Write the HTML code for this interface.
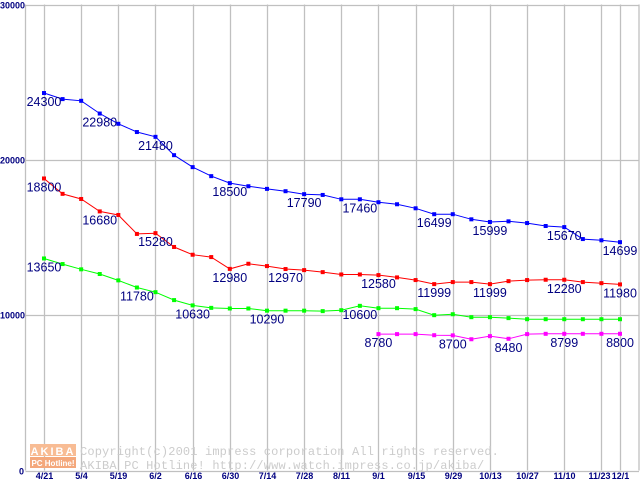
<!DOCTYPE html>
<html><head><meta charset="utf-8"><style>
html,body{margin:0;padding:0;background:#fff;width:640px;height:480px;overflow:hidden}
svg{display:block}
.tk{font-family:"Liberation Sans",sans-serif;font-size:9px;font-weight:bold;fill:#000080}
.vl{font-family:"Liberation Sans",sans-serif;font-size:12.5px;fill:#000080}
.wm{font-family:"Liberation Mono",monospace;font-size:12px;fill:#cccccc;letter-spacing:0.15px}
</style></head><body>
<svg id="chart" width="640" height="480">
<g id="grid"></g>
<g id="axes"></g>
<g>
<rect x="30" y="444" width="46" height="12" fill="#f8bc94"/>
<rect x="30" y="457" width="46" height="11" fill="#f4a87c"/>
<text x="53" y="455" text-anchor="middle" font-family="Liberation Sans,sans-serif" font-size="11" font-weight="bold" fill="#fff" letter-spacing="2">AKIBA</text>
<text x="53" y="466" text-anchor="middle" font-family="Liberation Sans,sans-serif" font-size="8" font-weight="bold" fill="#fff">PC Hotline!</text>
<text class="wm" x="80" y="455">Copyright(c)2001 impress corporation All rights reserved.</text>
<text class="wm" x="80" y="469">AKIBA PC Hotline!  http://www.watch.impress.co.jp/akiba/</text>
</g>
<g id="series"></g>
</svg>
<script>
const dates=["4/21","5/4","5/19","6/2","6/16","6/30","7/14","7/28","8/11","9/1","9/15","9/29","10/13","10/27","11/10","11/23","12/1"];
const yTicks=[0,10000,20000,30000];
const blue=[24300,23910,23800,22980,22320,21790,21480,20300,19530,18950,18500,18300,18130,17980,17790,17740,17460,17460,17270,17140,16880,16499,16499,16170,15999,16040,15930,15740,15670,14900,14820,14699];
const red=[18800,17810,17480,16680,16450,15230,15280,14390,13890,13740,12980,13310,13160,12970,12900,12770,12620,12620,12580,12430,12260,11999,12130,12130,11999,12190,12260,12280,12280,12130,12060,11980];
const green=[13650,13290,12950,12650,12240,11780,11480,10970,10630,10470,10430,10430,10290,10290,10290,10260,10320,10600,10450,10450,10390,10000,10060,9870,9870,9810,9740,9740,9740,9740,9740,9740];
const magenta=[null,null,null,null,null,null,null,null,null,null,null,null,null,null,null,null,null,null,8780,8780,8780,8710,8700,8450,8650,8480,8780,8799,8799,8799,8800,8800];
const blueLabels=[0,3,6,10,14,17,21,24,28,31];
const redLabels=[0,3,6,10,13,18,21,24,28,31];
const greenLabels=[0,5,8,12,17];
const magentaLabels=[18,22,25,28,31];

const NS="http://www.w3.org/2000/svg";
const N=blue.length;
function xs(i){return 44+i*(620-44)/(N-1);}
function ys(v){return 470.5-v*(466/30000);}
function mk(tag,attrs,parent){const e=document.createElementNS(NS,tag);for(const k in attrs)e.setAttribute(k,attrs[k]);parent.appendChild(e);return e;}
const grid=document.getElementById('grid'),axes=document.getElementById('axes'),ser=document.getElementById('series');
dates.forEach((d,k)=>{
  const i=(k<dates.length-1)?k*2:N-1;
  const x=Math.round(xs(i))+0.5;
  const l=mk('line',{x1:x,x2:x,y1:4.5,y2:470.5,stroke:'#c0c0c0','stroke-width':1.3},grid);
  
  
  const t=mk('text',{x:x-(d==="11/23"?2:0),y:479,'text-anchor':'middle',class:'tk'},axes);
  t.textContent=d;
  
  
});
yTicks.forEach(v=>{
  const y=Math.round(ys(v))+0.5;
  const l=mk('line',{x1:25.5,x2:639,y1:y,y2:y,stroke:'#c0c0c0','stroke-width':1.3},grid);
  
  
  const t=mk('text',{x:v===0?24:25,y:y+3,'text-anchor':'end',class:'tk'},axes);
  t.textContent=v;
  
  
});
const la=mk('line',{x1:25.5,x2:25.5,y1:4.5,y2:470.5,stroke:'#c0c0c0','stroke-width':1.3},axes);


const ra=mk('line',{x1:639,x2:639,y1:4.5,y2:470.5,stroke:'#c0c0c0','stroke-width':1.3},axes);



function drawSeries(data,color,labels,name){
  const g=mk('g',{},ser);
  
  
  let d='';
  data.forEach((v,i)=>{if(v==null)return;d+=(d?'L':'M')+xs(i).toFixed(1)+','+ys(v).toFixed(1);});
  const p=mk('path',{d:d,fill:'none',stroke:color,'stroke-width':1},g);
  
  
  data.forEach((v,i)=>{if(v==null)return;
    const r=mk('rect',{x:xs(i)-2,y:ys(v)-2,width:4,height:4,fill:color},g);
    
    
  });
  labels.forEach(i=>{
    const t=mk('text',{x:xs(i),y:ys(data[i])+13,'text-anchor':'middle',class:'vl'},g);
    t.textContent=data[i];
    
    
  });
}
drawSeries(blue,'#0000ff',blueLabels,'blue');
drawSeries(red,'#ff0000',redLabels,'red');
drawSeries(green,'#00ff00',greenLabels,'green');
drawSeries(magenta,'#ff00ff',magentaLabels,'magenta');
</script>
</body></html>
